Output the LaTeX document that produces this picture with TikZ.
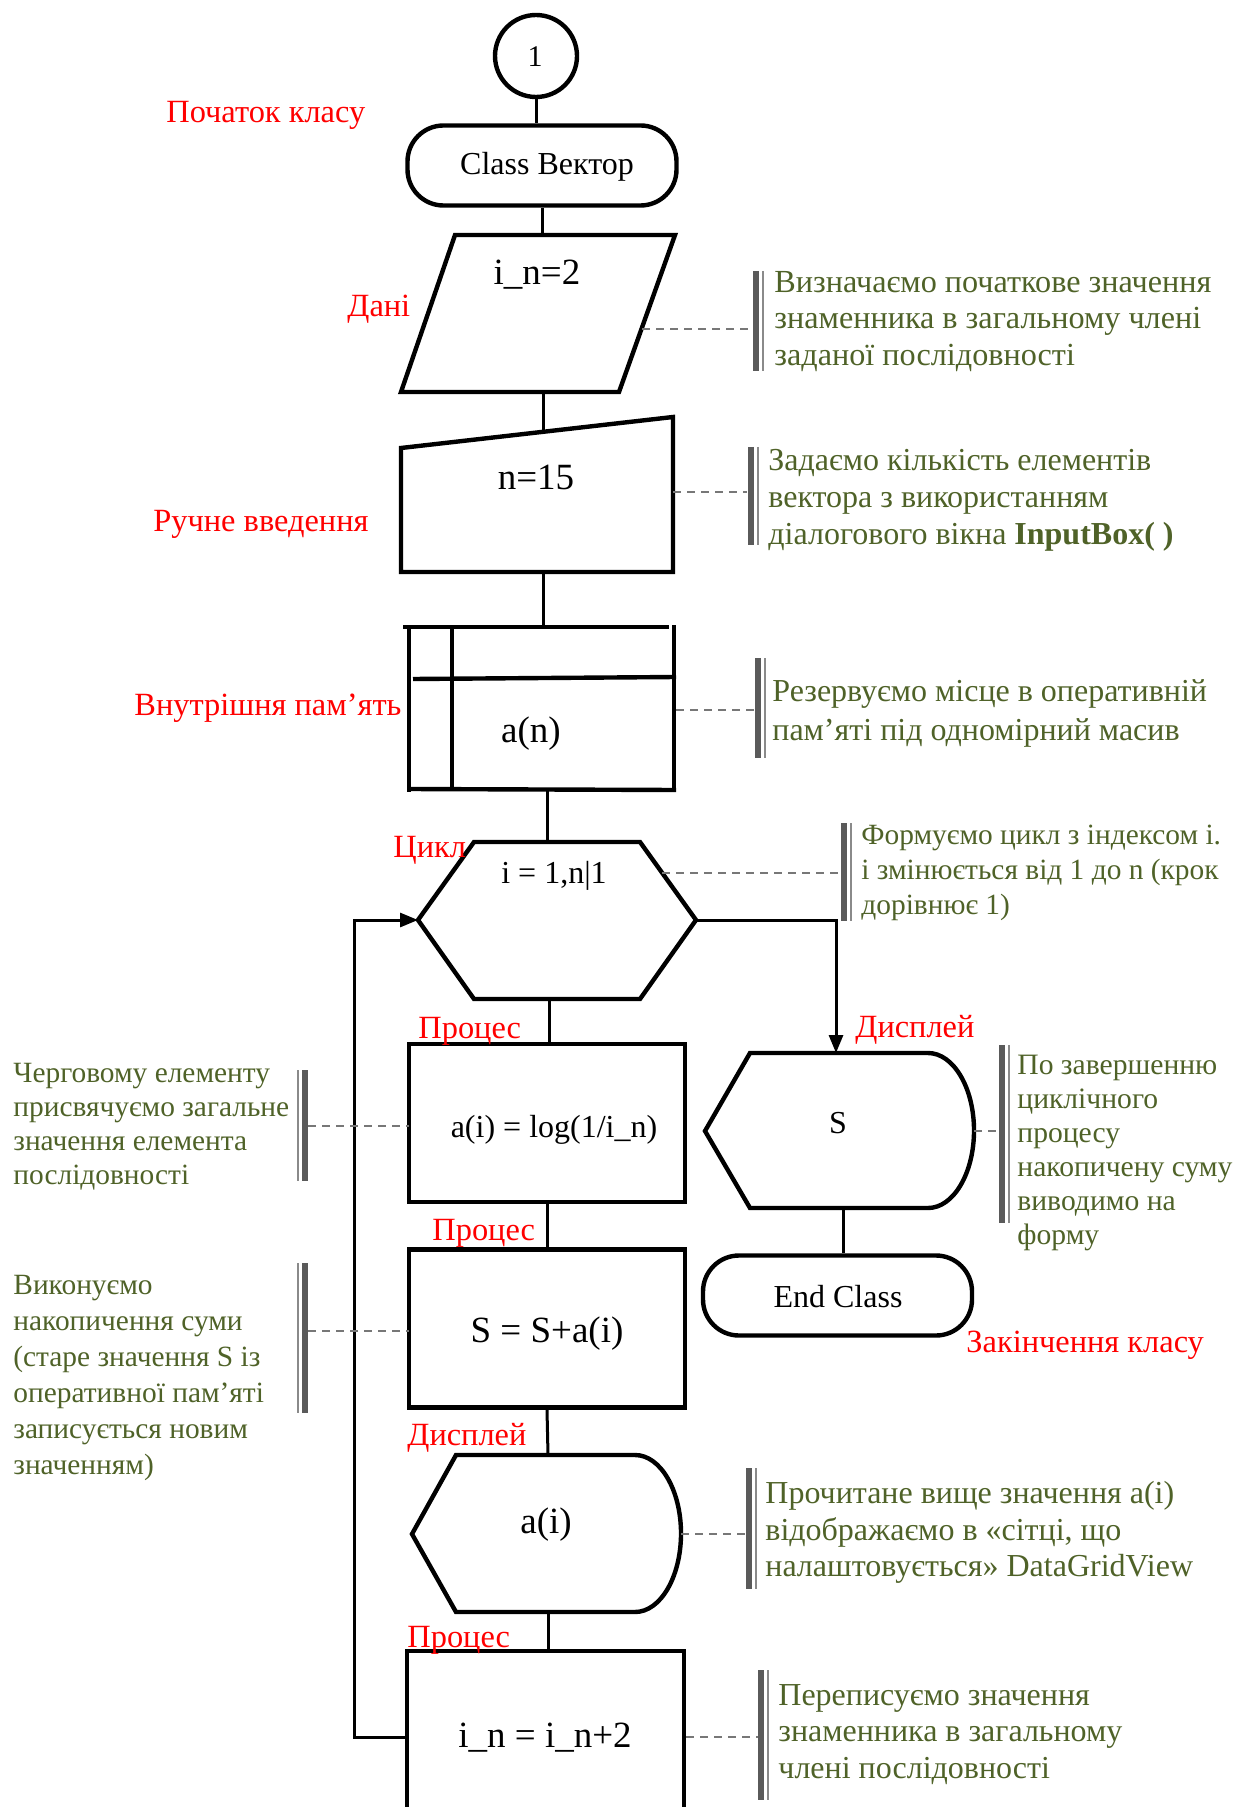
\documentclass[tikz,border=0pt]{standalone}
\usepackage{fontspec}
\setmainfont{Liberation Serif}
\usetikzlibrary{arrows.meta}
\definecolor{cmtc}{HTML}{4F6228}
\definecolor{barc}{HTML}{5A5A5A}
\definecolor{thinc}{HTML}{8A8A8A}
\definecolor{dashc}{HTML}{777777}
\begin{document}
\begin{tikzpicture}[x=0.5pt,y=-0.5pt,
  shp/.style={draw,line width=2.2pt,line join=miter},
  conn/.style={draw,line width=1.5pt},
  arr/.style={conn,-{Triangle[length=9pt,width=7pt]}},
  lbl/.style={text=red,font=\fontsize{16.2}{19}\selectfont,inner sep=0,anchor=base west},
  txt/.style={font=\fontsize{16}{19}\selectfont,inner sep=0,anchor=base},
  btxt/.style={font=\fontsize{18.5}{22}\selectfont,inner sep=0,anchor=base},
  cmt/.style={text=cmtc,font=\fontsize{16.1}{18.25}\selectfont,align=left,inner sep=0,anchor=north west},
  dashln/.style={draw=dashc,line width=1pt,dash pattern=on 4pt off 3pt},
  thickbar/.style={draw=barc,line width=3pt},
  thinbar/.style={draw=thinc,line width=1pt},
  term/.style={shp,rectangle,rounded corners=18pt,minimum width=134.5pt,minimum height=40pt,inner sep=0},
  proc/.style={shp,rectangle,minimum width=138pt,minimum height=79pt,inner sep=0}
]
\useasboundingbox (0,0) rectangle (1237,1807);

% ---------- shapes ----------
\node[shp,circle,minimum size=41pt,inner sep=0] (c1) at (536,56) {};
\node[font=\fontsize{15}{16}\selectfont,inner sep=0,anchor=base] (c1t) at (535,67) {1};

\node[term] (cls) at (542,165.5) {};
\node[txt] (clst) at (547,175) {Class Вектор};

% data (parallelogram)
\draw[shp] (455,235) -- (675,235) -- (619,392) -- (401,392) -- cycle;
\coordinate (dt) at (542,235);
\coordinate (db) at (543,392);
\node[btxt] (dtx) at (537,285) {i\_n=2};

% manual input
\draw[shp] (401,448) -- (673,417) -- (673,572) -- (401,572) -- cycle;
\coordinate (mt) at (543,432);
\coordinate (mb) at (543,572);
\node[btxt] (mtx) at (536,490) {n=15};

% internal memory
\draw[shp] (403,627) -- (669,627);
\draw[shp] (409,627) -- (409,792);
\draw[shp] (452,627) -- (452,789);
\draw[shp] (674,625) -- (674,792);
\draw[shp] (413,679) -- (676,677);
\draw[shp] (409,789) -- (676,790);
\coordinate (memt) at (543,627);
\coordinate (memb) at (547,790);
\node[btxt] (memtx) at (531,742) {a(n)};

% loop hexagon
\draw[shp] (418,920) -- (474,842) -- (640,842) -- (696,920) -- (640,999) -- (474,999) -- cycle;
\coordinate (hext) at (547,842);
\coordinate (hexb) at (549,999);
\coordinate (hexl) at (418,920);
\coordinate (hexr) at (696,920);
\node[txt] (hextx) at (554,883) {i = 1,n|1};

% process 1
\node[proc] (p1) at (547,1123) {};
\node[txt] (p1t) at (554,1137) {a(i) = log(1/i\_n)};

% process 2
\node[proc] (p2) at (547,1328.5) {};
\node[btxt] (p2t) at (547,1342) {S = S+a(i)};

% display a(i)
\draw[shp] (412,1534) -- (456,1455) -- (635,1455)
  arc[start angle=90,end angle=-90,x radius=23pt,y radius=39.25pt] -- (456,1612) -- cycle;
\coordinate (dat) at (548,1455);
\coordinate (dab) at (548,1612);
\node[btxt] (datx) at (546,1533) {a(i)};

% process 3
\draw[shp] (407,1900) -- (407,1651) -- (684,1651) -- (684,1900);
\coordinate (p3t) at (548,1651);
\coordinate (p3l) at (407,1737);
\node[btxt] (p3tx) at (545,1747) {i\_n = i\_n+2};

% display S
\draw[shp] (705,1131) -- (750,1053) -- (928,1053)
  arc[start angle=90,end angle=-90,x radius=23pt,y radius=38.75pt] -- (750,1208) -- cycle;
\coordinate (dst) at (836,1053);
\coordinate (dsb) at (843,1208);
\node[txt] (dstx) at (838,1133) {S};

% end class
\node[term] (ec) at (837.5,1295.5) {};
\node[txt] (ect) at (838,1307) {End Class};

% ---------- connectors ----------
\draw[conn] (c1.south) -- (c1.south |- cls.north);
\draw[conn] (cls.south) -- (dt);
\draw[conn] (db) -- (mt);
\draw[conn] (mb) -- (memt);
\draw[conn] (memb) -- (hext);
\draw[conn] (hexb) -- (hexb |- p1.north);
\draw[conn] (p1.south) -- (p2.north);
\draw[conn] (p2.south) -- (dat);
\draw[conn] (dab) -- (p3t);
\coordinate (lp) at (354,1737);
\draw[arr] (p3l) -- (lp) |- (hexl);
\draw[arr] (hexr) -| (dst);
\draw[conn] (dsb) -- (dsb |- ec.north);

% ---------- red labels ----------
\node[lbl] (l1) at (166,123) {Початок класу};
\node[lbl] (l2) at (347,317) {Дані};
\node[lbl] (l3) at (153,531) {Ручне введення};
\node[lbl] (l4) at (134,715) {Внутрішня пам’ять};
\node[lbl] (l5) at (393,857) {Цикл};
\node[lbl] (l6) at (418,1038) {Процес};
\node[lbl] (l7) at (855,1037) {Дисплей};
\node[lbl] (l8) at (432,1240) {Процес};
\node[lbl] (l9) at (966,1352) {Закінчення класу};
\node[lbl] (l10) at (407,1445) {Дисплей};
\node[lbl] (l11) at (407,1647) {Процес};

% ---------- comments ----------
% 1
\draw[dashln] (642,329) -- (753,329);
\draw[thickbar] (756,271) -- (756,371);
\draw[thinbar] (763,271) -- (763,371);
\node[cmt] (k1) at (774,271) {Визначаємо початкове значення\\знаменника в загальному члені\\заданої послідовності};
% 2
\draw[dashln] (673,492) -- (747,492);
\draw[thickbar] (750.5,447) -- (750.5,545);
\draw[thinbar] (757.5,447) -- (757.5,545);
\node[cmt,font=\fontsize{16}{18.5}\selectfont] (k2) at (768,449) {Задаємо кількість елементів\\вектора з використанням\\діалогового вікна \textbf{InputBox( )}};
% 3
\draw[dashln] (676,710) -- (755,710);
\draw[thickbar] (758,658) -- (758,758);
\draw[thinbar] (765,658) -- (765,758);
\node[cmt,font=\fontsize{16}{19.5}\selectfont] (k3) at (772,679) {Резервуємо місце в оперативній\\пам’яті під одномірний масив};
% 4
\draw[dashln] (662,873) -- (841,873);
\draw[thickbar] (844,823) -- (844,921);
\draw[thinbar] (851,823) -- (851,921);
\node[cmt,font=\fontsize{14.7}{17.5}\selectfont] (k4) at (861,825) {Формуємо цикл з індексом і.\\і змінюється від 1 до n (крок\\дорівнює 1)};
% 5
\draw[dashln] (974,1131) -- (999,1131);
\draw[thickbar] (1002,1045) -- (1002,1223);
\draw[thinbar] (1009,1045) -- (1009,1223);
\node[cmt,font=\fontsize{14.8}{17}\selectfont] (k5) at (1017,1055) {По завершенню\\циклічного\\процесу\\накопичену суму\\виводимо на\\форму};
% 6
\draw[dashln] (308,1126) -- (409,1126);
\draw[thickbar] (305,1070) -- (305,1181);
\draw[thinbar] (298,1070) -- (298,1181);
\node[cmt,font=\fontsize{14.7}{17}\selectfont] (k6) at (13,1063) {Черговому елементу\\присвячуємо загальне\\значення елемента\\послідовності};
% 7
\draw[dashln] (308,1331) -- (409,1331);
\draw[thickbar] (305,1263) -- (305,1413);
\draw[thinbar] (298,1263) -- (298,1413);
\node[cmt,font=\fontsize{14.7}{18}\selectfont] (k7) at (13,1275) {Виконуємо\\накопичення суми\\(старе значення S із\\оперативної пам’яті\\записується новим\\значенням)};
% 8
\draw[dashln] (681,1534) -- (746,1534);
\draw[thickbar] (749,1468) -- (749,1589);
\draw[thinbar] (756,1468) -- (756,1589);
\node[cmt,font=\fontsize{16}{18.25}\selectfont] (k8) at (765,1481) {Прочитане вище значення a(i)\\відображаємо в «сітці, що\\налаштовується» DataGridView};
% 9
\draw[dashln] (686,1737) -- (758,1737);
\draw[thickbar] (761,1670) -- (761,1800);
\draw[thinbar] (768,1670) -- (768,1800);
\node[cmt,font=\fontsize{16}{18.25}\selectfont] (k9) at (778,1684) {Переписуємо значення\\знаменника в загальному\\члені послідовності};
\end{tikzpicture}
\end{document}
